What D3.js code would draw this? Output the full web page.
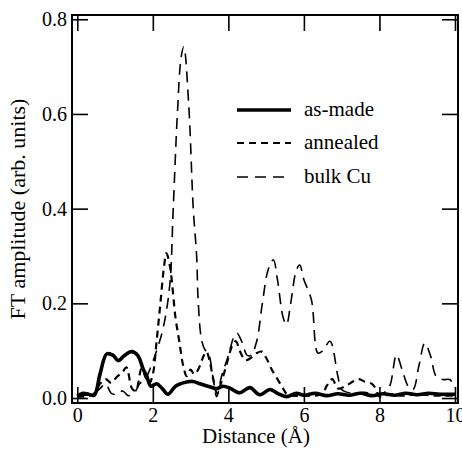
<!DOCTYPE html>
<html>
<head>
<meta charset="utf-8">
<script src="https://cdn.jsdelivr.net/npm/d3@7"></script>
<style>
body { margin: 0; background: #fff; }
svg text { font-family: 'Liberation Serif', 'Times New Roman', Times, 'DejaVu Serif', serif; fill: #000; }
</style>
</head>
<body>
<div id="chart"></div>
<script>
// distance (Angstrom) / FT amplitude pairs
var asMadeX = [0, 0.15, 0.3, 0.45, 0.6, 0.78, 0.95, 1.08, 1.25, 1.44, 1.6, 1.75, 1.84, 1.95, 2.1, 2.25, 2.4, 2.6, 2.8, 3.06, 3.25, 3.5, 3.7, 3.85, 4.04, 4.3, 4.57, 4.83, 5.1, 5.3, 5.54, 5.8, 6.0, 6.3, 6.6, 6.9, 7.2, 7.5, 7.8, 8.1, 8.4, 8.7, 9.0, 9.3, 9.6, 10];
var asMadeY = [0.004, 0.01, 0.008, 0.006, 0.05, 0.093, 0.09, 0.079, 0.09, 0.098, 0.09, 0.06, 0.046, 0.025, 0.03, 0.02, 0.008, 0.025, 0.032, 0.035, 0.03, 0.024, 0.02, 0.025, 0.021, 0.011, 0.022, 0.007, 0.018, 0.01, 0.003, 0.01, 0.006, 0.01, 0.005, 0.009, 0.006, 0.01, 0.005, 0.009, 0.006, 0.01, 0.007, 0.01, 0.008, 0.008];

var annealedX = [0, 0.3, 0.45, 0.6, 0.75, 0.9, 1.05, 1.2, 1.3, 1.45, 1.55, 1.7, 1.8, 1.9, 2.0, 2.1, 2.2, 2.3, 2.36, 2.45, 2.5, 2.6, 2.7, 2.8, 2.9, 3.0, 3.1, 3.2, 3.35, 3.42, 3.5, 3.6, 3.7, 3.8, 3.95, 4.1, 4.2, 4.3, 4.45, 4.6, 4.75, 4.88, 5.0, 5.15, 5.3, 5.45, 5.55, 5.7, 6.0, 6.3, 6.5, 6.6, 6.75, 6.9, 7.1, 7.3, 7.45, 7.6, 7.8, 7.9, 8.0, 8.3, 8.6, 9.0, 9.5, 10];
var annealedY = [0.003, 0.004, 0.01, 0.03, 0.04, 0.032, 0.045, 0.055, 0.065, 0.02, 0.015, 0.062, 0.045, 0.03, 0.05, 0.12, 0.2, 0.28, 0.306, 0.28, 0.25, 0.17, 0.12, 0.07, 0.046, 0.06, 0.05, 0.06, 0.09, 0.098, 0.08, 0.04, 0.01, 0.03, 0.07, 0.11, 0.12, 0.1, 0.08, 0.085, 0.095, 0.098, 0.085, 0.06, 0.04, 0.02, 0.008, 0.005, 0.005, 0.005, 0.01, 0.025, 0.04, 0.02, 0.025, 0.035, 0.04, 0.035, 0.03, 0.02, 0.003, 0.008, 0.005, 0.008, 0.005, 0.005];

var bulkX = [0, 0.2, 0.4, 0.6, 0.75, 0.9, 1.05, 1.2, 1.35, 1.5, 1.65, 1.8, 1.92, 2.1, 2.28, 2.45, 2.54, 2.65, 2.75, 2.82, 2.95, 3.07, 3.16, 3.2, 3.29, 3.38, 3.47, 3.6, 3.69, 3.82, 4.0, 4.15, 4.23, 4.35, 4.5, 4.6, 4.75, 4.9, 5.05, 5.19, 5.3, 5.45, 5.54, 5.65, 5.8, 5.89, 6.0, 6.2, 6.37, 6.5, 6.69, 6.9, 7.0, 7.3, 7.6, 7.9, 8.1, 8.27, 8.45, 8.6, 8.76, 8.89, 9.05, 9.2, 9.35, 9.5, 9.68, 9.86, 10];
var bulkY = [0.004, 0.006, 0.008, 0.02, 0.03, 0.01, 0.008, 0.015, 0.005, 0.01, 0.03, 0.04, 0.06, 0.1, 0.15, 0.24, 0.4, 0.6, 0.72, 0.742, 0.62, 0.4, 0.3, 0.207, 0.123, 0.102, 0.095, 0.04, 0.003, 0.046, 0.09, 0.13, 0.137, 0.12, 0.09, 0.09, 0.12, 0.2, 0.27, 0.292, 0.25, 0.17, 0.155, 0.2, 0.27, 0.281, 0.25, 0.207, 0.095, 0.1, 0.12, 0.046, 0.018, 0.01, 0.012, 0.008, 0.01, 0.025, 0.091, 0.06, 0.025, 0.018, 0.07, 0.116, 0.09, 0.046, 0.039, 0.039, 0.022];

var seriesNames = ['as-made', 'annealed', 'bulk Cu'];
var xTicks = [0, 2, 4, 6, 8, 10];
var yTicks = [0, 0.2, 0.4, 0.6, 0.8];

var serif = "'Liberation Serif', 'Times New Roman', Times, 'DejaVu Serif', serif";

function drawChart() {
    var W = 462, H = 449;
    var m = {left: 72, right: 458, top: 15, bottom: 403};

    var svg = d3.select('#chart').append('svg')
        .attr('width', W)
        .attr('height', H)
        .attr('font-family', serif);

    var x = d3.scaleLinear().domain([-0.14, 10.08]).range([m.left, m.right]);
    var y = d3.scaleLinear().domain([-0.0105, 0.809]).range([m.bottom, m.top]);

    // frame
    svg.append('rect')
        .attr('x', m.left).attr('y', m.top)
        .attr('width', m.right - m.left).attr('height', m.bottom - m.top)
        .attr('fill', 'none').attr('stroke', '#000').attr('stroke-width', 2);

    // inward ticks on all four sides
    var tl = 16;
    function tickAxis(axis, tx, ty) {
        var g = svg.append('g')
            .attr('transform', `translate(${tx},${ty})`)
            .call(axis)
            .attr('font-family', serif)
            .attr('font-size', 20);
        g.select('.domain').remove();
        g.selectAll('.tick line').attr('stroke', '#000').attr('stroke-width', 1.6);
        return g;
    }

    tickAxis(d3.axisBottom(x).tickValues(xTicks).tickSizeInner(-tl).tickPadding(5).tickFormat(d3.format('d')), 0, m.bottom);
    tickAxis(d3.axisTop(x).tickValues(xTicks).tickSizeInner(-tl).tickFormat(''), 0, m.top);
    tickAxis(d3.axisLeft(y).tickValues(yTicks).tickSizeInner(-tl).tickPadding(5).tickFormat(d3.format('.1f')), m.left, 0);
    tickAxis(d3.axisRight(y).tickValues(yTicks).tickSizeInner(-tl).tickFormat(''), m.right, 0);
    svg.selectAll('.tick text').attr('fill', '#000');

    // axis titles
    svg.append('text')
        .attr('x', 256)
        .attr('y', 443)
        .attr('text-anchor', 'middle')
        .attr('font-size', 21)
        .text('Distance (Å)');

    svg.append('text')
        .attr('transform', `translate(25,${(m.top + m.bottom) / 2}) rotate(-90)`)
        .attr('text-anchor', 'middle')
        .attr('font-size', 22)
        .text('FT amplitude (arb. units)');

    // curves
    var line = d3.line()
        .x(d => x(d[0]))
        .y(d => y(d[1]))
        .curve(d3.curveCatmullRom.alpha(0.5));

    var series = [
        {xs: asMadeX, ys: asMadeY, w: 3.6, dash: null},
        {xs: annealedX, ys: annealedY, w: 2.2, dash: '7,5'},
        {xs: bulkX, ys: bulkY, w: 1.6, dash: '11,7'}
    ];

    var plot = svg.append('g');
    series.slice().reverse().forEach(function (s) {
        plot.append('path')
            .datum(s.xs.map((v, i) => [v, s.ys[i]]))
            .attr('d', line)
            .attr('fill', 'none')
            .attr('stroke', '#000')
            .attr('stroke-width', s.w)
            .attr('stroke-linejoin', 'round')
            .attr('stroke-dasharray', s.dash);
    });

    // legend
    var legY = [110, 143, 177];
    var leg = svg.append('g');
    series.forEach(function (s, i) {
        leg.append('line')
            .attr('x1', 237).attr('x2', 291)
            .attr('y1', legY[i]).attr('y2', legY[i])
            .attr('stroke', '#000')
            .attr('stroke-width', s.w)
            .attr('stroke-dasharray', s.dash);
        leg.append('text')
            .attr('x', 304)
            .attr('y', legY[i] + 6)
            .attr('font-size', 21)
            .text(seriesNames[i]);
    });
}
drawChart();
</script>
</body>
</html>
